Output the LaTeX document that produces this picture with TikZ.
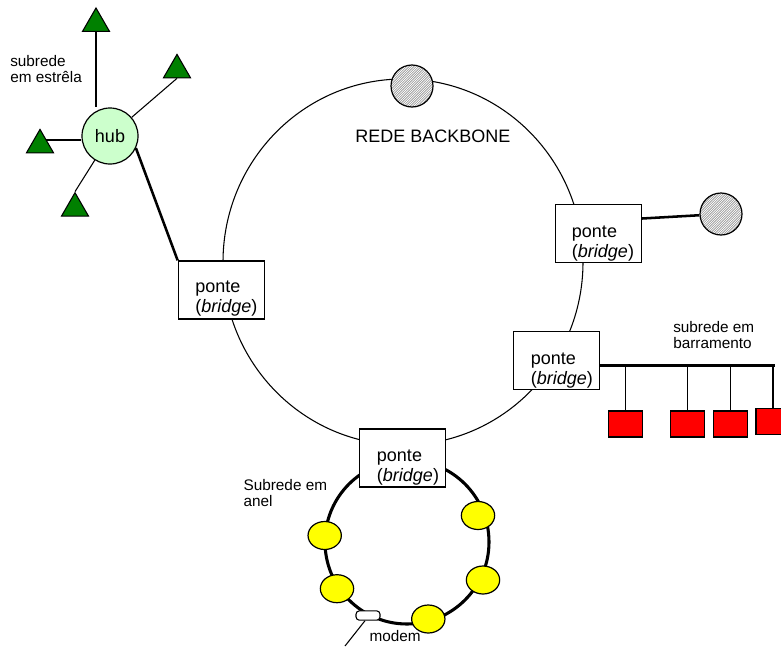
\documentclass[tikz,border=0pt]{standalone}
\usepackage{fontspec}
\setmainfont{Liberation Sans}
\usetikzlibrary{shapes.geometric,patterns}
\pgfdeclarelayer{background}
\pgfsetlayers{background,main}
\pgfdeclarepatternformonly{finehatch}{\pgfqpoint{-1pt}{-1pt}}{\pgfqpoint{2.8pt}{2.8pt}}{\pgfqpoint{1.8pt}{1.8pt}}{%
  \pgfsetlinewidth{0.45pt}%
  \pgfpathmoveto{\pgfqpoint{0pt}{0pt}}%
  \pgfpathlineto{\pgfqpoint{1.9pt}{1.9pt}}%
  \pgfusepath{stroke}}
\definecolor{stargreen}{HTML}{008000}
\definecolor{hubgreen}{HTML}{CCFFCC}
\definecolor{busred}{HTML}{FF0000}
\definecolor{ringyellow}{HTML}{FFFF00}
\tikzset{
  big/.style={font=\fontsize{13.5}{15}\selectfont},
  small/.style={font=\fontsize{11.5}{12}\selectfont},
  txt/.style={inner sep=0pt, anchor=base west, align=left},
  thinline/.style={line width=0.8pt},
  thickline/.style={line width=1.9pt},
  bridgebox/.style={draw, fill=white, line width=1pt, inner sep=0pt,
    minimum width=64.5pt, minimum height=43.5pt},
  station/.style={regular polygon, regular polygon sides=3, draw, fill=stargreen,
    line width=0.8pt, inner sep=0pt, minimum size=23.4pt},
  hubnode/.style={circle, draw, fill=hubgreen, line width=0.9pt, inner sep=0pt,
    minimum size=42pt, big},
  server/.style={circle, draw, line width=0.9pt, inner sep=0pt, minimum size=31.5pt,
    preaction={fill=white}, pattern=finehatch, pattern color=gray!85},
  busnode/.style={rectangle, draw, fill=busred, line width=0.9pt, inner sep=0pt,
    minimum width=25.5pt, minimum height=19.5pt},
  ringnode/.style={ellipse, draw, fill=ringyellow, line width=0.9pt, inner sep=0pt,
    minimum width=25pt, minimum height=21pt},
  modembox/.style={rectangle, rounded corners=2.5pt, draw, fill=white, line width=0.8pt,
    inner sep=0pt, minimum width=18pt, minimum height=7pt},
}
\begin{document}
\begin{tikzpicture}[x=0.75pt,y=-0.75pt]
\useasboundingbox (0,0) rectangle (781,646);
\clip (0,0) rectangle (781,646);

% backbone ring and token ring
\node[ellipse, draw, line width=0.8pt, inner sep=0pt, minimum width=270pt,
  minimum height=274.5pt] (backbone) at (403,262) {};
\node[circle, draw, line width=2.3pt, inner sep=0pt, minimum size=123pt] (ring) at (407,542) {};

% star subnet
\node[hubnode] (hub) at (110,136) {hub};
\node[station] (t1) at (96,23.6) {};
\node[station] (t2) at (177,70) {};
\node[station] (t3) at (40,145) {};
\node[station] (t4) at (75,208.3) {};

% bridges
\node[bridgebox] (lb) at (221.3,290) {};
\node[bridgebox] (tb) at (598.5,233.5) {};
\node[bridgebox] (mb) at (556.7,360.5) {};
\node[bridgebox] (bb) at (402.5,458) {};

% servers
\node[server] (gtop) at (412,86) {};
\node[server] (gright) at (721,214) {};

% bus subnet
\coordinate (busend) at (775,365.7);
\node[busnode] (rs1) at (625.5,424) {};
\node[busnode] (rs2) at (687.5,424) {};
\node[busnode] (rs3) at (730.5,424) {};
\node[busnode] (rs4) at (773,421.7) {};

% ring subnet stations
\node[ringnode] (y1) at (478,515.5) {};
\node[ringnode] (y2) at (324.7,535.5) {};
\node[ringnode] (y3) at (483,580) {};
\node[ringnode] (y4) at (337,588.7) {};
\node[ringnode] (y5) at (428.3,619) {};
\node[modembox] (modem) at (368,615.5) {};
\coordinate (modemtail) at (345,646);

% labels (base anchor sits on the last line)
\node[txt, small] (lblstar) at (10,82.7) {subrede\\em estrêla};
\node[txt, big] (lblbackbone) at (355,142.3) {REDE BACKBONE};
\node[txt, big] (lbt) at (195,312.7) {ponte\\(\textit{bridge})};
\node[txt, big] (tbt) at (571.7,257.3) {ponte\\(\textit{bridge})};
\node[txt, big] (mbt) at (530.5,384) {ponte\\(\textit{bridge})};
\node[txt, big] (bbt) at (376.7,481) {ponte\\(\textit{bridge})};
\node[txt, small] (lblbus) at (673,348.3) {subrede em\\barramento};
\node[txt, small] (lblring) at (243.3,506) {Subrede em\\anel};
\node[txt, small] (lblmodem) at (369.3,641) {modem};

\begin{pgfonlayer}{background}
  \draw[thinline] (t1.south) -- (t1.south |- hub.north);
  \draw[thinline] (t2.south) -- (hub);
  \draw[thinline] ([yshift=-3pt]hub.west) -- ([yshift=-3pt]hub.west -| t3.center);
  \draw[thinline] (hub) -- (t4.north);
  \draw[thickline] (hub.-25) -- (lb.north west);
  \draw[thickline] ([yshift=11.25pt]tb.east) -- (gright);
  \draw[thickline] (mb.east |- busend) -- (busend);
  \draw[thinline] (rs1.north) -- (rs1.north |- busend);
  \draw[thinline] (rs2.north) -- (rs2.north |- busend);
  \draw[thinline] (rs3.north) -- (rs3.north |- busend);
  \draw[thinline] (rs4.north) -- (rs4.north |- busend);
  \draw[thinline] (modem.-120) -- (modemtail);
\end{pgfonlayer}
\end{tikzpicture}
\end{document}
